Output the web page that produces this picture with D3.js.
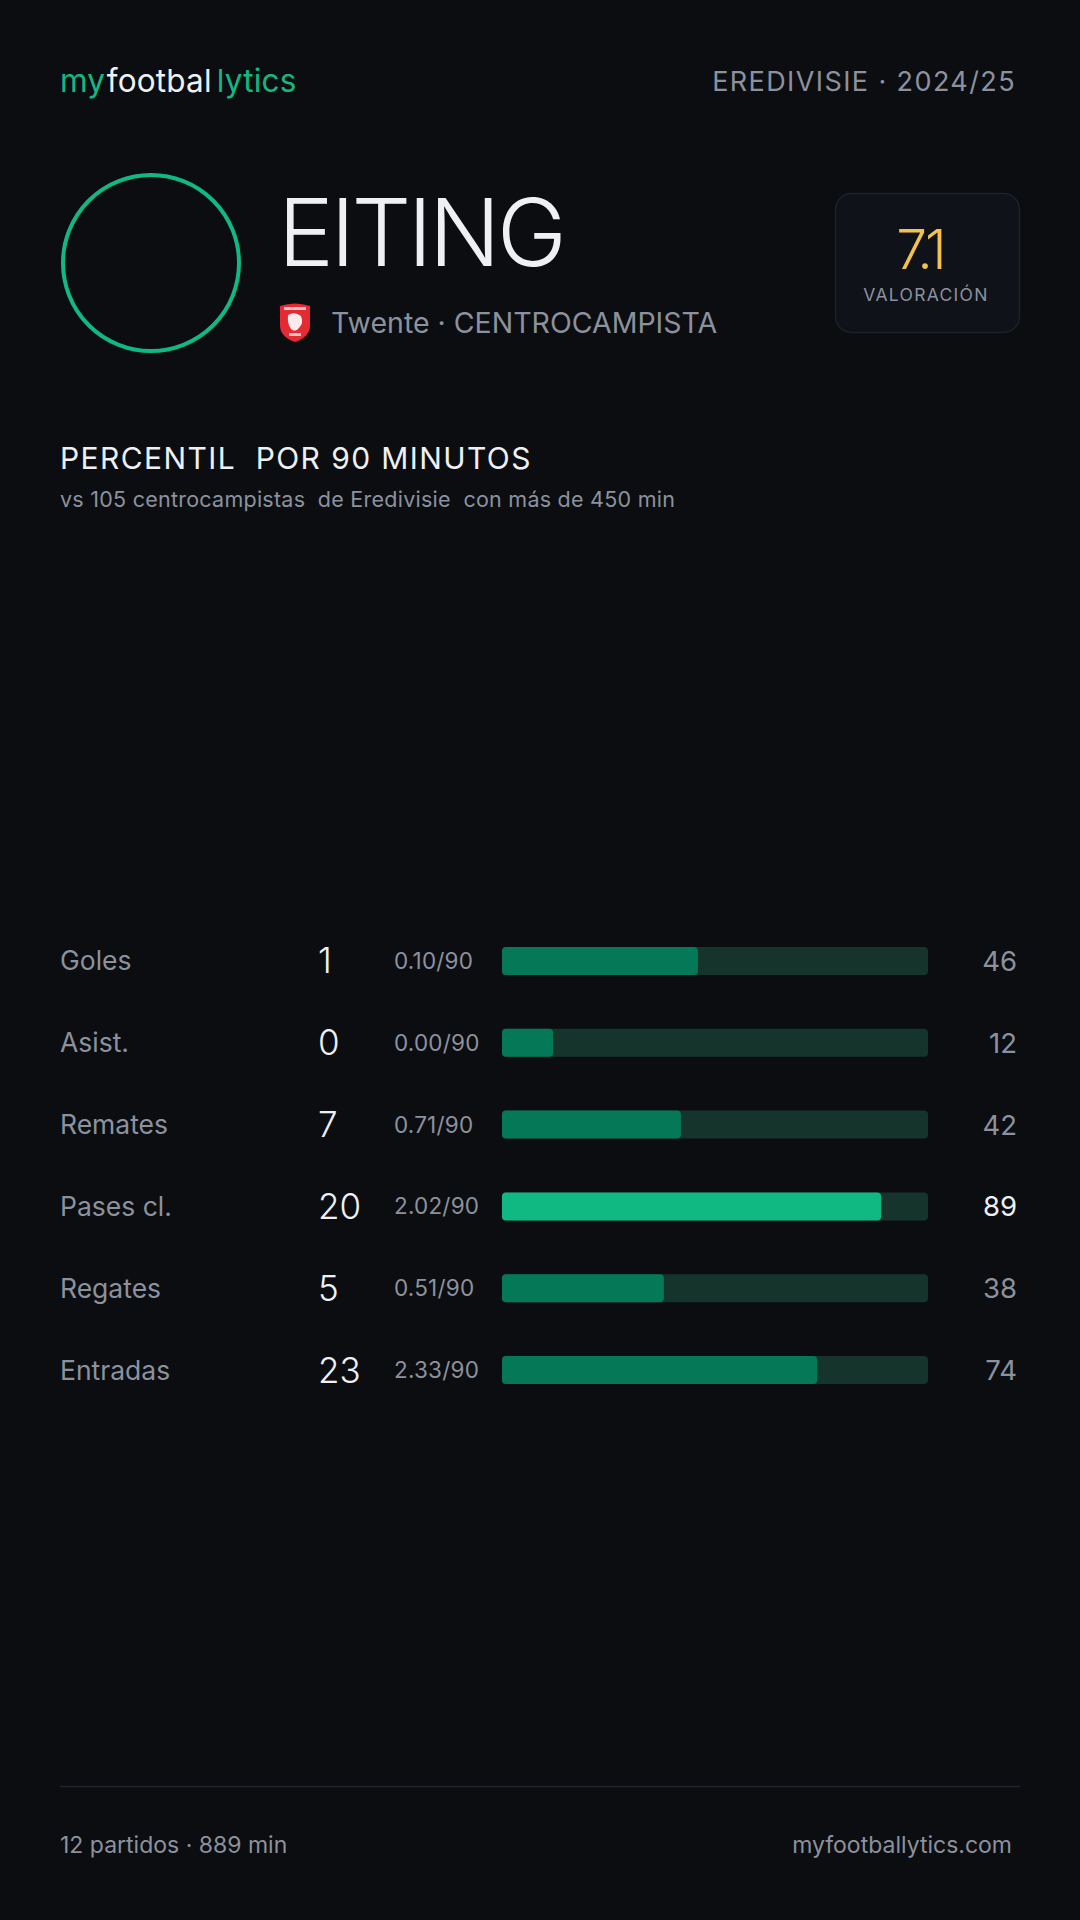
<!DOCTYPE html>
<html>
<head>
<meta charset="utf-8">
<script src="https://cdn.jsdelivr.net/npm/d3@7"></script>
<style>
  html, body { margin: 0; padding: 0; background: #0b0d11; }
  svg { display: block; font-family: Inter, "Noto Sans", sans-serif; }
  svg text { white-space: pre; }
</style>
</head>
<body>
<div id="card"></div>
<script>
// Player card data
const playerName = "EITING";
const teamName = "Twente";
const position = "CENTROCAMPISTA";
const league = "EREDIVISIE · 2024/25";
const rating = "7.1";
const sectionTitle = "PERCENTIL  POR 90 MINUTOS";
const subtitle = "vs 105 centrocampistas  de Eredivisie  con más de 450 min";
const footerLeft = "12 partidos · 889 min";
const footerRight = "myfootballytics.com";

const statLabels = ["Goles", "Asist.", "Remates", "Pases cl.", "Regates", "Entradas"];
const statTotals = [1, 0, 7, 20, 5, 23];
const statPer90 = ["0.10", "0.00", "0.71", "2.02", "0.51", "2.33"];
const statPercentiles = [46, 12, 42, 89, 38, 74];

const W = 1080, H = 1920;
const green = "#10b981", greenDark = "#047857", track = "#15342b";
const white = "#eef0f3", grey = "#8b929d";

const svg = d3.select("#card")
    .append("svg")
    .attr("width", W)
    .attr("height", H);

svg.append("rect").attr("width", W).attr("height", H).attr("fill", "#0b0d11");

// Header: logo + league
const logo = svg.append("text")
    .attr("x", 60).attr("y", 92)
    .style("font-size", "31.5px")
    .style("letter-spacing", "0.2px");
logo.append("tspan").attr("fill", green).text("my");
logo.append("tspan").attr("fill", white).attr("dx", 1).text("footbal");
logo.append("tspan").attr("fill", green).attr("dx", 5).text("lytics");

svg.append("text")
    .attr("x", 1016).attr("y", 91)
    .attr("text-anchor", "end")
    .attr("fill", grey)
    .style("font-size", "27px")
    .style("letter-spacing", "1.4px")
    .text(league);

// Avatar ring
svg.append("circle")
    .attr("cx", 151).attr("cy", 263).attr("r", 88)
    .attr("fill", "none")
    .attr("stroke", green)
    .attr("stroke-width", 4);

// Name
svg.append("text")
    .attr("x", 278).attr("y", 266)
    .attr("fill", white)
    .style("font-size", "94px")
    .style("font-weight", 350)
    .style("letter-spacing", "-3.5px")
    .text(playerName);

// Club crest (simple shield)
const crest = svg.append("g").attr("transform", "translate(279,303)");
crest.append("path")
    .attr("d", "M1,3 Q16,-2 31,3 L31,22 Q31,34 16,39 Q1,34 1,22 Z")
    .attr("fill", "#e42a32");
crest.append("path")
    .attr("d", "M9,12 Q16,8 22,13 Q25,20 20,25 Q16,30 12,26 Q8,20 9,12 Z")
    .attr("fill", "#fff").attr("opacity", 0.9);
crest.append("rect").attr("x", 5).attr("y", 4).attr("width", 22).attr("height", 3)
    .attr("fill", "#fff").attr("opacity", 0.7);
crest.append("rect").attr("x", 10).attr("y", 30).attr("width", 12).attr("height", 3)
    .attr("fill", "#fff").attr("opacity", 0.7);

const teamLine = svg.append("text")
    .attr("x", 331).attr("y", 333)
    .attr("fill", grey)
    .style("font-size", "28.5px");
teamLine.append("tspan").text(teamName);
teamLine.append("tspan").attr("dx", 8).text("· " + position);

// Rating box
svg.append("rect")
    .attr("x", 835.5).attr("y", 193.5)
    .attr("width", 184).attr("height", 139)
    .attr("rx", 16)
    .attr("fill", "#0f1218")
    .attr("stroke", "#1d2129")
    .attr("stroke-width", 1.5);
svg.append("text")
    .attr("x", 920).attr("y", 269)
    .attr("text-anchor", "middle")
    .attr("fill", "#f2c14e")
    .style("font-size", "55px")
    .style("font-weight", 300)
    .style("letter-spacing", "-3px")
    .text(rating);
svg.append("text")
    .attr("x", 926).attr("y", 301)
    .attr("text-anchor", "middle")
    .attr("fill", grey)
    .style("font-size", "17.5px")
    .style("letter-spacing", "1.3px")
    .text("VALORACIÓN");

// Section title
svg.append("text")
    .attr("x", 60).attr("y", 469)
    .attr("fill", white)
    .style("font-size", "30px")
    .style("letter-spacing", "1.4px")
    .text(sectionTitle);
svg.append("text")
    .attr("x", 60).attr("y", 507)
    .attr("fill", grey)
    .style("font-size", "21.5px")
    .style("letter-spacing", "0.25px")
    .text(subtitle);

// Percentile bars
const rows = statLabels.map((label, i) => ({
    label,
    total: statTotals[i],
    per90: statPer90[i],
    pct: statPercentiles[i]
}));

const x = d3.scaleLinear().domain([0, 100]).range([502, 928]);
const y = d3.scaleBand()
    .domain(statLabels)
    .range([920, 1411])
    .paddingInner(0)
    .align(0.5);
const barH = 28;

const row = svg.selectAll(".row")
    .data(rows)
    .enter()
    .append("g")
    .attr("class", "row")
    .attr("transform", d => `translate(0,${y(d.label) + y.bandwidth() / 2})`);

row.append("text")
    .attr("x", 60).attr("y", 9.5)
    .attr("fill", grey)
    .style("font-size", "26.5px")
    .text(d => d.label);

row.append("text")
    .attr("x", 318).attr("y", 12.5)
    .attr("fill", white)
    .style("font-size", "35px")
    .style("font-weight", 300)
    .text(d => d.total);

row.append("text")
    .attr("x", 394).attr("y", 8)
    .attr("fill", grey)
    .style("font-size", "22.5px")
    .style("letter-spacing", "0.2px")
    .text(d => d.per90 + "/90");

row.append("rect")
    .attr("x", x(0)).attr("y", -barH / 2)
    .attr("width", x(100) - x(0)).attr("height", barH)
    .attr("rx", 4)
    .attr("fill", track);

row.append("rect")
    .attr("x", x(0)).attr("y", -barH / 2)
    .attr("width", d => x(d.pct) - x(0)).attr("height", barH)
    .attr("rx", 4)
    .attr("fill", d => d.pct >= 80 ? green : greenDark);

row.append("text")
    .attr("x", 1017).attr("y", 10)
    .attr("text-anchor", "end")
    .attr("fill", d => d.pct >= 80 ? white : grey)
    .style("font-size", "27.5px")
    .text(d => d.pct);

// Footer
svg.append("line")
    .attr("x1", 60).attr("x2", 1020)
    .attr("y1", 1786.5).attr("y2", 1786.5)
    .attr("stroke", "#22252e")
    .attr("stroke-width", 1.5);
svg.append("text")
    .attr("x", 60).attr("y", 1853)
    .attr("fill", grey)
    .style("font-size", "23px")
    .text(footerLeft);
svg.append("text")
    .attr("x", 1012).attr("y", 1853)
    .attr("text-anchor", "end")
    .attr("fill", grey)
    .style("font-size", "23px")
    .text(footerRight);
</script>
</body>
</html>
